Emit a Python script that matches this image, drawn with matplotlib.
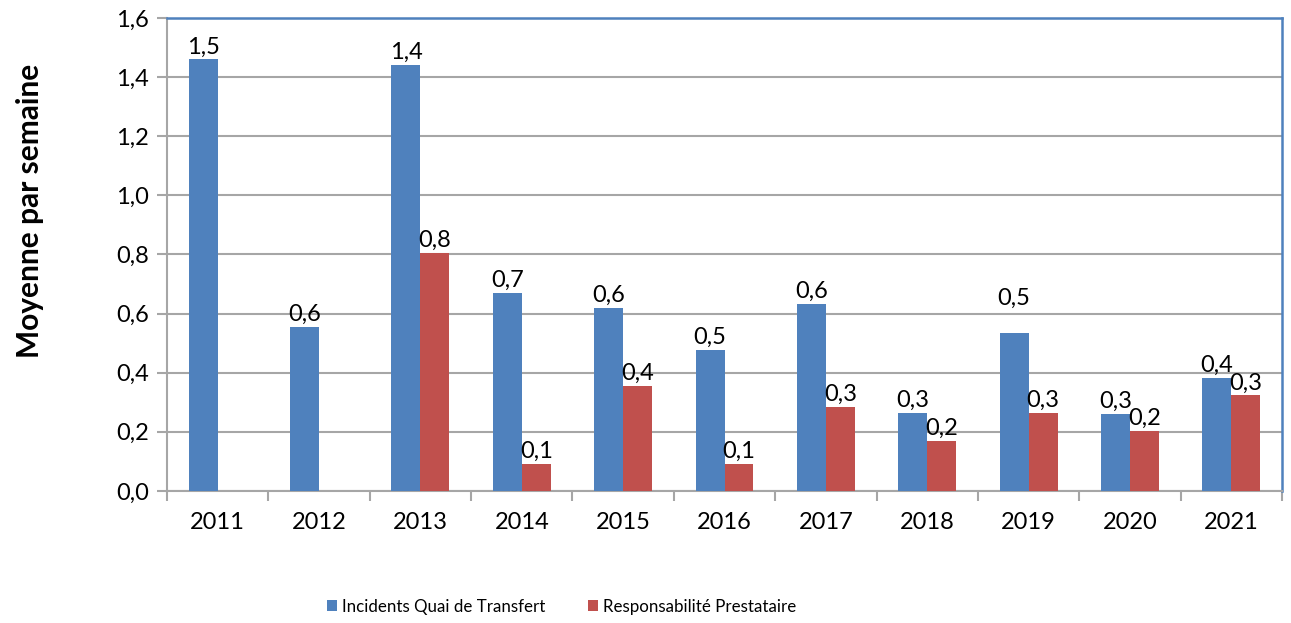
#!/usr/bin/env python3
"""Weekly average of incidents at the transfer dock, 2011-2021."""
import numpy as np
import matplotlib

matplotlib.use("Agg")
import matplotlib.pyplot as plt
from matplotlib.ticker import FixedLocator

plt.rcParams["font.family"] = ["Lato", "DejaVu Sans"]

years = ["2011", "2012", "2013", "2014", "2015", "2016", "2017", "2018", "2019", "2020", "2021"]
incidents_quai = [1.46, 0.555, 1.44, 0.67, 0.618, 0.476, 0.632, 0.264, 0.533, 0.26, 0.381]
resp_prestataire = [np.nan, np.nan, 0.804, 0.091, 0.356, 0.091, 0.284, 0.168, 0.264, 0.203, 0.323]
series_names = ["Incidents Quai de Transfert", "Responsabilité Prestataire"]
y_ticks = [0.0, 0.2, 0.4, 0.6, 0.8, 1.0, 1.2, 1.4, 1.6]

BLUE = "#4F81BD"
RED = "#C0504D"
GRID = "#A6A6A6"
NUM_SIZE = 17
LEGEND_SIZE = 12.2

# label nudges (points) where the original chart moved a label by hand
LABEL_NUDGE = {(0, 8): 16}


def fr(v):
    return f"{v:.1f}".replace(".", ",")


fig = plt.figure(figsize=(12.91, 6.23), dpi=100)
ax = fig.add_axes([0.1294, 0.212, 0.8636, 0.759])

x = np.arange(len(years))
w = 0.2857
b1 = ax.bar(x - w / 2, incidents_quai, w, color=BLUE, label=series_names[0], zorder=3)
b2 = ax.bar(x + w / 2, resp_prestataire, w, color=RED, label=series_names[1], zorder=3)

for s, (bars, vals) in enumerate(((b1, incidents_quai), (b2, resp_prestataire))):
    for i, (bar, v) in enumerate(zip(bars, vals)):
        if np.isnan(v):
            continue
        dy = 1.5 + LABEL_NUDGE.get((s, i), 0)
        ax.annotate(fr(v), (bar.get_x() + bar.get_width() / 2, v),
                    xytext=(0, dy), textcoords="offset points",
                    ha="center", va="bottom", fontsize=NUM_SIZE, zorder=4)

ax.set_xlim(-0.5, len(years) - 0.5)
ax.set_ylim(0, 1.6)
ax.set_yticks(y_ticks)
ax.set_yticklabels([fr(t) for t in y_ticks], fontsize=NUM_SIZE)
ax.set_xticks(x)
ax.set_xticklabels(years, fontsize=NUM_SIZE)
ax.tick_params(axis="x", length=0, pad=15)
ax.xaxis.set_minor_locator(FixedLocator(np.arange(-0.5, len(years), 1.0)))
ax.tick_params(axis="x", which="minor", length=7, color=GRID, width=1.5)
ax.tick_params(axis="y", length=7, color=GRID, width=1.5, pad=6)

ax.grid(axis="y", color=GRID, linewidth=1.5, zorder=0)
ax.set_axisbelow(True)
for side in ("top", "right"):
    ax.spines[side].set_color(BLUE)
    ax.spines[side].set_linewidth(1.8)
for side in ("left", "bottom"):
    ax.spines[side].set_color(GRID)
    ax.spines[side].set_linewidth(1.5)

fig.text(0.023, 0.661, "Moyenne par semaine", rotation=90, ha="center", va="center",
         fontsize=21.5, fontweight="bold")

fig.legend(handles=[b1, b2], loc="center", bbox_to_anchor=(0.435, 0.026), ncol=2,
           frameon=False, fontsize=LEGEND_SIZE, handlelength=0.6, handleheight=0.6,
           handletextpad=0.3, columnspacing=2.5)

fig.savefig("out.png", dpi=100)
